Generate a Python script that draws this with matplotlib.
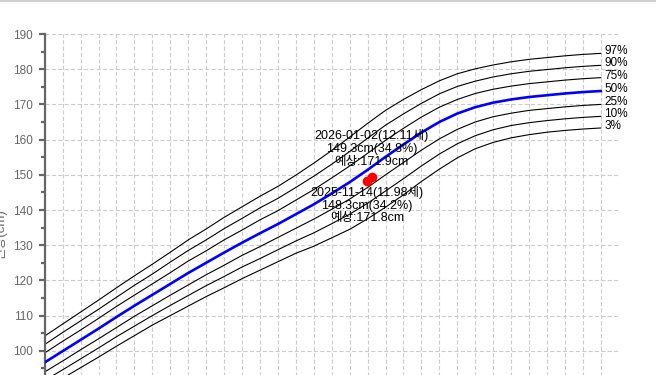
import matplotlib
matplotlib.use('Agg')
import matplotlib.pyplot as plt
from matplotlib.lines import Line2D
from matplotlib.ticker import MultipleLocator, FuncFormatter

plt.rcParams['font.family'] = ['Liberation Sans', 'Noto Sans CJK KR', 'DejaVu Sans']
plt.rcParams['lines.scale_dashes'] = False

# ---- data -------------------------------------------------------------
ages = [3.0, 3.5, 4.0, 4.5, 5.0, 5.5, 6.0, 6.5, 7.0, 7.5, 8.0, 8.5, 9.0, 9.5,
        10.0, 10.5, 11.0, 11.5, 12.0, 12.5, 13.0, 13.5, 14.0, 14.5, 15.0, 15.5,
        16.0, 16.5, 17.0, 17.5, 18.0, 18.5]

p97 = [104.2, 107.6, 111.0, 114.4, 117.9, 121.3, 124.6, 128.0, 131.5, 134.6, 137.9, 140.9,
       143.9, 146.7, 149.9, 153.3, 156.9, 160.7, 164.6, 168.3, 171.4, 174.2, 176.7, 178.7,
       180.1, 181.2, 182.1, 182.8, 183.3, 183.8, 184.2, 184.5]
p90 = [101.8, 105.2, 108.5, 111.8, 115.2, 118.6, 121.8, 125.2, 128.5, 131.5, 134.7, 137.6,
       140.6, 143.3, 146.4, 149.6, 153.0, 156.6, 160.4, 164.1, 167.3, 170.3, 173.0, 175.1,
       176.6, 177.8, 178.7, 179.4, 179.9, 180.4, 180.8, 181.1]
p75 = [99.4, 102.7, 105.9, 109.2, 112.6, 115.8, 119.0, 122.2, 125.5, 128.4, 131.5, 134.3,
       137.2, 139.8, 142.8, 145.8, 149.1, 152.5, 156.1, 159.8, 163.2, 166.4, 169.2, 171.4,
       173.1, 174.3, 175.2, 175.9, 176.4, 176.9, 177.3, 177.6]
p50 = [96.7, 99.9, 103.1, 106.3, 109.6, 112.8, 115.9, 119.0, 122.1, 125.0, 127.9, 130.7,
       133.4, 136.0, 138.8, 141.6, 144.7, 147.9, 151.4, 155.1, 158.6, 162.0, 165.0, 167.4,
       169.2, 170.5, 171.4, 172.1, 172.6, 173.1, 173.5, 173.8]
p25 = [94.0, 97.1, 100.3, 103.4, 106.6, 109.8, 112.8, 115.8, 118.7, 121.6, 124.3, 127.1,
       129.6, 132.2, 134.8, 137.4, 140.2, 143.1, 146.4, 150.0, 153.5, 157.0, 160.2, 162.9,
       165.0, 166.5, 167.5, 168.3, 168.8, 169.3, 169.7, 170.0]
p10 = [91.6, 94.6, 97.7, 100.8, 104.0, 107.0, 110.0, 112.9, 115.7, 118.5, 121.1, 123.8,
       126.2, 128.7, 131.2, 133.5, 136.1, 138.8, 141.9, 145.4, 148.9, 152.5, 155.9, 158.8,
       161.1, 162.8, 164.0, 164.8, 165.4, 165.9, 166.3, 166.6]
p3 = [89.2, 92.2, 95.2, 98.2, 101.3, 104.3, 107.3, 110.0, 112.7, 115.4, 117.9, 120.5,
      122.9, 125.3, 127.7, 129.7, 132.1, 134.5, 137.5, 140.8, 144.3, 148.1, 151.6, 154.8,
      157.4, 159.2, 160.5, 161.4, 162.1, 162.6, 163.0, 163.3]

percentile_series = [p3, p10, p25, p50, p75, p90, p97]
percentile_labels = ['3%', '10%', '25%', '50%', '75%', '90%', '97%']

meas_age = [11.98, 12.11]
meas_height = [148.3, 149.3]
meas_text = ['2025-11-14(11.98세)\n148.3cm(34.2%)\n예상:171.8cm',
             '2026-01-02(12.11세)\n149.3cm(34.8%)\n예상:171.9cm']

y_label = '신장(cm)'
x_min, x_max = 3.0, 19.0
y_min, y_max = 80, 190

# ---- figure -----------------------------------------------------------
W, H = 656, 375
fig = plt.figure(figsize=(W / 100, H / 100), dpi=100)
fig.patch.set_facecolor('white')

ax_left = 44.7
ax_right = 618.7
ax_top = 34.0
px_per_cm = 3.52
ax_h = (y_max - y_min) * px_per_cm
ax = fig.add_axes([ax_left / W, (H - ax_top - ax_h) / H,
                   (ax_right - ax_left) / W, ax_h / H])
ax.set_xlim(x_min, x_max)
ax.set_ylim(y_min, y_max)

# grid
ax.xaxis.set_major_locator(MultipleLocator(0.5))
ax.yaxis.set_major_locator(MultipleLocator(10))
ax.yaxis.set_minor_locator(MultipleLocator(5))
# labels below the visible crop of the reference are not shown
ax.yaxis.set_major_formatter(FuncFormatter(lambda v, p: f'{v:.0f}' if v >= 100 else ''))
grid_style = dict(color='#cccccc', linewidth=0.8, linestyle=(0, (3.0, 1.6)))
ax.grid(True, which='major', axis='both', **grid_style)
ax.set_axisbelow(True)

for s in ['top', 'right', 'bottom']:
    ax.spines[s].set_visible(False)
ax.spines['left'].set_color('#666666')
ax.spines['left'].set_linewidth(1.6)

ax.tick_params(axis='x', which='both', length=0, labelbottom=False)
ax.tick_params(axis='y', which='major', length=4.5, width=1.6, color='#666666',
               labelcolor='#666666', labelsize=8.5, pad=4)
ax.tick_params(axis='y', which='minor', length=3.0, width=1.6, color='#666666')

# percentile curves
for series, lab in zip(percentile_series, percentile_labels):
    if lab == '50%':
        ax.plot(ages, series, color='#0000ff', linewidth=1.9, zorder=3)
    else:
        ax.plot(ages, series, color='black', linewidth=0.8, zorder=2)
    ax.annotate(lab, xy=(ages[-1], series[-1]), xytext=(2.5, 1.5),
                textcoords='offset points', ha='left', va='center',
                fontsize=8.5, color='black', annotation_clip=False)

# measured points
ax.plot(meas_age, meas_height, color='#ff0000', linewidth=3.5,
        marker='o', markersize=6, zorder=5, solid_capstyle='round')

# annotations
ax.annotate(meas_text[0], xy=(meas_age[0], meas_height[0]), xytext=(0, -3.5),
            textcoords='offset points', ha='center', va='top', fontsize=9,
            linespacing=1.1, color='black', zorder=6)
ax.annotate(meas_text[1], xy=(meas_age[1], meas_height[1]), xytext=(0, 6.5),
            textcoords='offset points', ha='center', va='bottom', fontsize=9,
            linespacing=1.1, color='black', zorder=6)

# y label (partially cut off on the left edge, as in the reference)
fig.text(0.5 / W, 1 - 235 / H, y_label, rotation=90, ha='center', va='center',
         fontsize=9.5, color='#666666')

# top grey border line
fig.add_artist(Line2D([0, 1], [1 - 1.0 / H, 1 - 1.0 / H], transform=fig.transFigure,
                      color='#d0d0d0', linewidth=1.6))

fig.savefig('out.png', dpi=100)
